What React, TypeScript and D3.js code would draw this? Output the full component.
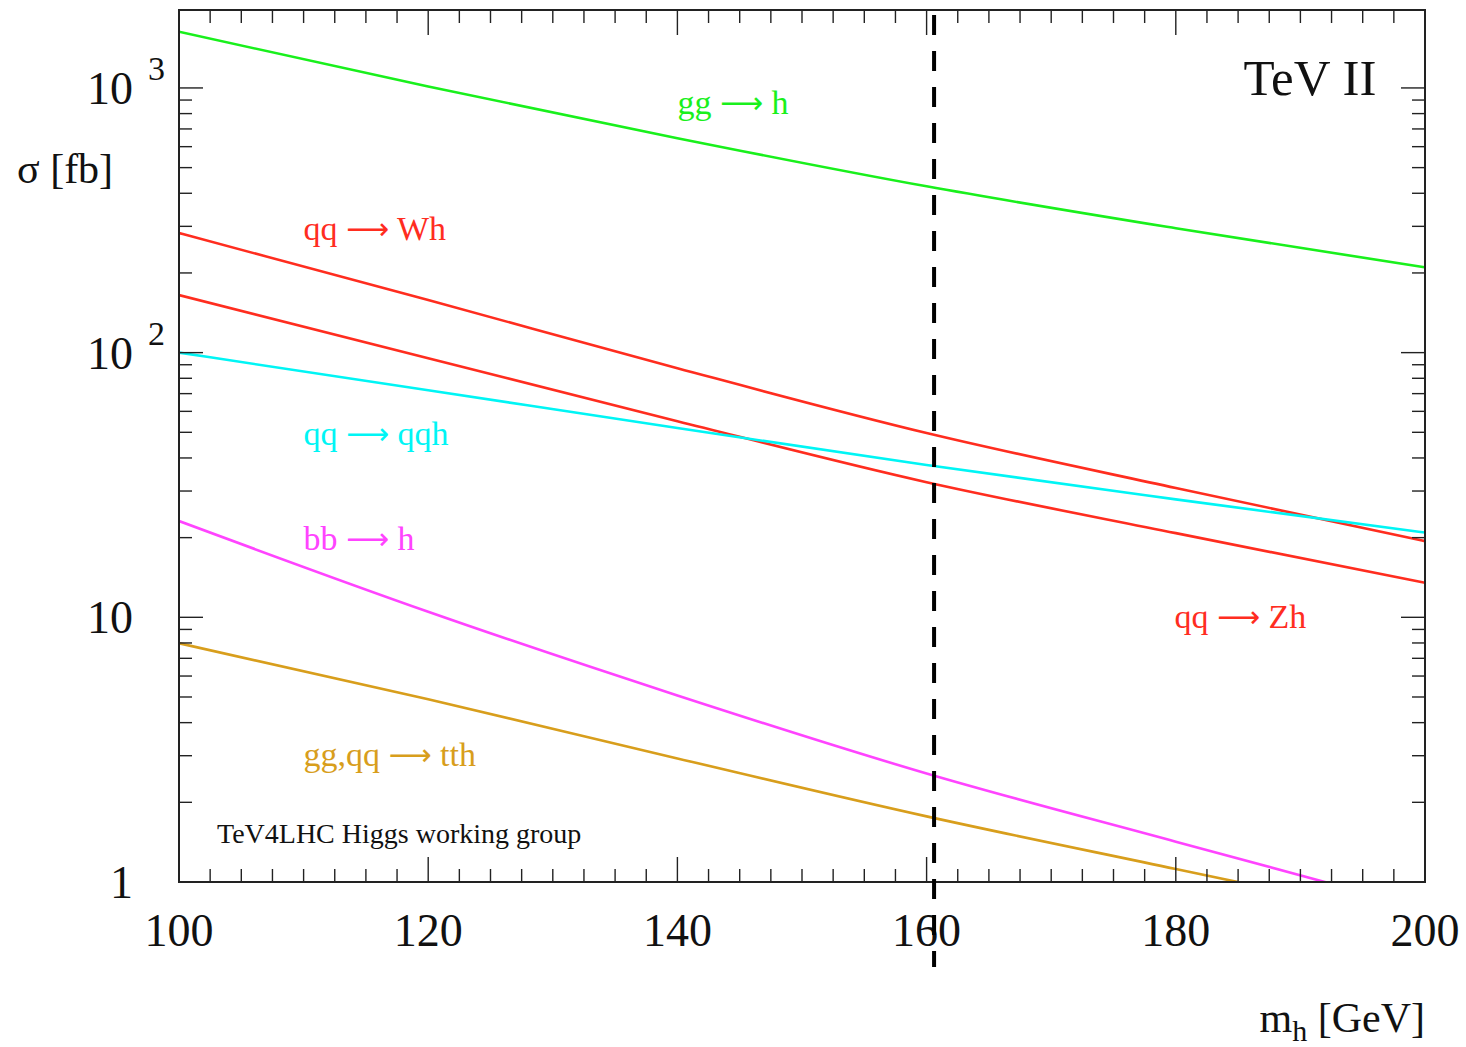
import React from "react";
import * as d3 from "d3";

// Higgs production cross sections at the Tevatron
const massPoints = [100, 120, 140, 160, 180, 200];
const ggH = [1630, 1012, 646, 425, 295, 210];
const qqWH = [283, 158, 87.3, 49.7, 30.8, 19.4];
const qqZH = [165, 95.3, 55.1, 32.4, 20.8, 13.5];
const qqQQH = [100, 72.1, 51.9, 37.6, 27.9, 20.9];
const bbH = [23.1, 10.5, 5.07, 2.57, 1.42, 0.79];
const ttH = [7.98, 4.9, 2.93, 1.77, 1.12, 0.71];

const xTicks = [100, 120, 140, 160, 180, 200];
const yDecades = [1, 10, 100, 1000];
const markerMass = 160.6;

const series = [
  { name: "gg → h", values: ggH, color: "#19f01c", lx: 140, ly: 800 },
  { name: "qq → Wh", values: qqWH, color: "#ff2d1f", lx: 110, ly: 266 },
  { name: "qq → Zh", values: qqZH, color: "#ff2d1f", lx: 179.9, ly: 9.08 },
  { name: "qq → qqh", values: qqQQH, color: "#00f5f5", lx: 110, ly: 44.7 },
  { name: "bb → h", values: bbH, color: "#ff44ff", lx: 110, ly: 17.9 },
  { name: "gg,qq → tth", values: ttH, color: "#d89e1c", lx: 110, ly: 2.75 },
];

const font = "'Liberation Serif', 'Times New Roman', serif";

// renders "a → b" with a longer arrow like the TLatex one
const ProcessLabel = ({ text, x, y, color }: { text: string; x: number; y: number; color: string }) => {
  const [left, right] = text.split("→");
  return (
    <text x={x} y={y} fontFamily={font} fontSize={34} fill={color}>
      {left}
      <tspan fontFamily="'DejaVu Sans', sans-serif" fontSize={30} dy={-1}>
        ⟶
      </tspan>
      <tspan dy={1}>{right}</tspan>
    </text>
  );
};

export default function App() {
  const width = 1466;
  const height = 1047;
  const margin = { top: 10, right: 41, bottom: 165, left: 179 };
  const innerWidth = width - margin.left - margin.right;
  const innerHeight = height - margin.top - margin.bottom;

  const xScale = d3.scaleLinear().domain([100, 200]).range([0, innerWidth]);
  const yScale = d3.scaleLog().domain([1, 1970]).range([innerHeight, 0]);

  const line = d3
    .line<[number, number]>()
    .x((d) => xScale(d[0]))
    .y((d) => yScale(d[1]))
    .curve(d3.curveMonotoneX);

  const minorX = d3.range(100, 200.01, 2.5).filter((v) => v % 20 !== 0);
  const minorY: number[] = [];
  yDecades.forEach((dec) => {
    for (let k = 2; k <= 9; k++) {
      const v = dec * k;
      if (v <= 1970) minorY.push(v);
    }
  });

  const tickStroke = { stroke: "#222", strokeWidth: 1.4 };

  return (
    <svg
      width={width}
      height={height}
      style={{ position: "absolute", left: 0, top: 0, background: "#fff" }}
    >
      <defs>
        <clipPath id="plotArea">
          <rect x={0} y={0} width={innerWidth} height={innerHeight} />
        </clipPath>
      </defs>
      <g transform={`translate(${margin.left},${margin.top})`}>
        {/* curves */}
        <g clipPath="url(#plotArea)">
          {series.map((s) => (
            <path
              key={s.name}
              d={line(massPoints.map((m, i) => [m, s.values[i]]) as [number, number][]) || ""}
              fill="none"
              stroke={s.color}
              strokeWidth={2.6}
            />
          ))}
        </g>

        {/* ticks: bottom and top */}
        {xTicks.map((t) => (
          <g key={"xt" + t}>
            <line x1={xScale(t)} x2={xScale(t)} y1={innerHeight} y2={innerHeight - 25} {...tickStroke} />
            <line x1={xScale(t)} x2={xScale(t)} y1={0} y2={25} {...tickStroke} />
          </g>
        ))}
        {minorX.map((t) => (
          <g key={"xm" + t}>
            <line x1={xScale(t)} x2={xScale(t)} y1={innerHeight} y2={innerHeight - 13} {...tickStroke} />
            <line x1={xScale(t)} x2={xScale(t)} y1={0} y2={13} {...tickStroke} />
          </g>
        ))}
        {/* ticks: left and right */}
        {yDecades.map((t) => (
          <g key={"yt" + t}>
            <line x1={0} x2={24} y1={yScale(t)} y2={yScale(t)} {...tickStroke} />
            <line x1={innerWidth} x2={innerWidth - 24} y1={yScale(t)} y2={yScale(t)} {...tickStroke} />
          </g>
        ))}
        {minorY.map((t) => (
          <g key={"ym" + t}>
            <line x1={0} x2={13} y1={yScale(t)} y2={yScale(t)} {...tickStroke} />
            <line x1={innerWidth} x2={innerWidth - 13} y1={yScale(t)} y2={yScale(t)} {...tickStroke} />
          </g>
        ))}

        {/* frame */}
        <rect x={0} y={0} width={innerWidth} height={innerHeight} fill="none" stroke="#222" strokeWidth={2} />

        {/* x tick labels */}
        {xTicks.map((t) => (
          <text
            key={"xl" + t}
            x={xScale(t)}
            y={innerHeight + 64}
            textAnchor="middle"
            fontFamily={font}
            fontSize={46}
            fill="#111"
          >
            {t}
          </text>
        ))}

        {/* y tick labels */}
        {yDecades.map((t) => {
          const exp = Math.round(Math.log10(t));
          const y = yScale(t) + 16;
          if (exp === 0 || exp === 1) {
            return (
              <text key={"yl" + t} x={-46} y={y} textAnchor="end" fontFamily={font} fontSize={46} fill="#111">
                {t}
              </text>
            );
          }
          return (
            <g key={"yl" + t}>
              <text x={-46} y={y} textAnchor="end" fontFamily={font} fontSize={46} fill="#111">
                10
              </text>
              <text x={-31} y={y - 24} textAnchor="start" fontFamily={font} fontSize={34} fill="#111">
                {exp}
              </text>
            </g>
          );
        })}

        {/* vertical dashed marker */}
        <line
          x1={xScale(markerMass)}
          x2={xScale(markerMass)}
          y1={5}
          y2={innerHeight + 85}
          stroke="#000"
          strokeWidth={4}
          strokeDasharray="20 16"
        />

        {/* process labels */}
        {series.map((s) => (
          <ProcessLabel key={"lab" + s.name} text={s.name} x={xScale(s.lx)} y={yScale(s.ly)} color={s.color} />
        ))}

        <text x={xScale(196.1)} y={yScale(942)} textAnchor="end" fontFamily={font} fontSize={51} fill="#111">
          TeV II
        </text>
        <text x={xScale(103.05)} y={yScale(1.4)} fontFamily={font} fontSize={28} fill="#111">
          TeV4LHC Higgs working group
        </text>
      </g>

      {/* axis titles */}
      <text x={17} y={183} fontFamily={font} fontSize={42} fill="#111">
        σ [fb]
      </text>
      <text x={1425} y={1032} textAnchor="end" fontFamily={font} fontSize={42} fill="#111">
        m
        <tspan fontSize={30} dy={9}>h</tspan>
        <tspan dy={-9}> [GeV]</tspan>
      </text>
    </svg>
  );
}
